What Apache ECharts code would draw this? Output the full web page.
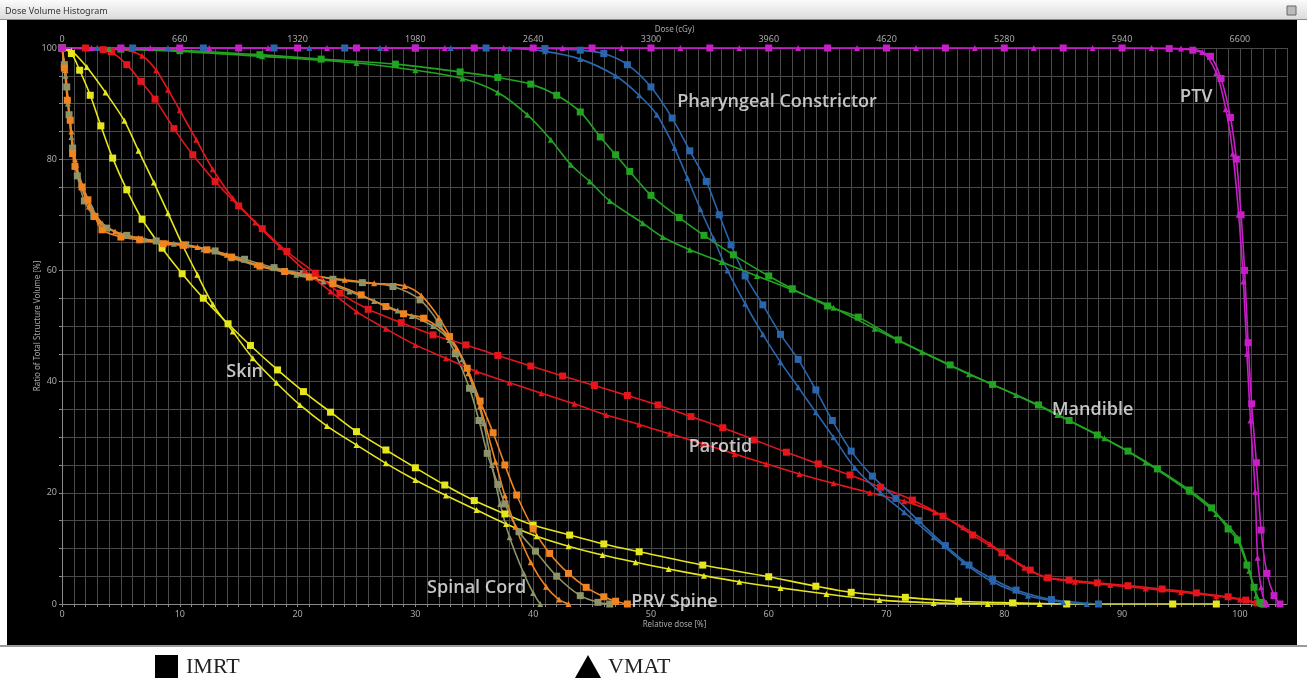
<!DOCTYPE html>
<html><head><meta charset="utf-8">
<script src="https://cdn.jsdelivr.net/npm/echarts@6/dist/echarts.min.js"></script>
<style>html,body{margin:0;padding:0;background:#fff;overflow:hidden}#c{width:1307px;height:678px}</style>
</head><body><div id="c"></div>
<script>
// ---------- data (relative dose %, volume %) ----------
const relTicks = [0,10,20,30,40,50,60,70,80,90,100];
const doseTicks = [0,660,1320,1980,2640,3300,3960,4620,5280,5940,6600];
const volTicks = [0,20,40,60,80,100];

const ptvIMRT = [[0,100],[5,100],[10,100],[15,100],[20,100],[25,100],[30,100],[35,100],[40,100],[45,100],[50,100],[55,100],[60,100],[65,100],[70,100],[75,100],[80,100],[85,100],[90,100],[94,99.9],[96,99.6],[97.5,98.5],[98.4,94.5],[99.2,87.5],[99.7,80],[100.1,70],[100.4,60],[100.7,47],[101.0,36],[101.4,25.4],[101.8,13.3],[102.3,5.5],[102.9,1.5],[103.4,0]];
const ptvVMAT = [[0,100],[2.5,100],[7.5,100],[12.5,100],[17.5,100],[22.5,100],[27.5,100],[32.5,100],[37.5,100],[42.5,100],[47.5,100],[52.5,100],[57.5,100],[62.5,100],[67.5,100],[72.5,100],[77.5,100],[82.5,100],[87.5,100],[92.5,100],[95,99.9],[96.8,99.3],[98,95.5],[98.8,89],[99.4,81],[99.9,70],[100.3,58],[100.6,45],[100.9,33],[101.3,20.2],[101.5,8.3],[101.8,3],[102.1,0.4],[102.3,0]];

const pharIMRT = [[0,100],[6,100],[12,100],[18,100],[24,100],[30,100],[36,100],[41,99.9],[44,99.6],[46,99],[48,97],[50,93],[51.8,87.4],[53.3,81.5],[54.7,76],[55.8,70],[56.8,64.6],[58,59],[59.5,53.8],[61,48.5],[62.5,44],[64,38.5],[65.4,33],[67,27.5],[68.8,23],[70.8,19],[72.7,15],[75,10.5],[77,7],[79,4.5],[81,2.5],[84,0.8],[88,0]];
const pharVMAT = [[0,100],[3,100],[9,100],[15,100],[21,100],[27,100],[33,100],[38,99.9],[41,99.4],[44,98],[47,95],[49,91.5],[50.5,88],[52,82],[53.1,76.6],[54.2,71],[55.3,65.8],[56.5,60],[58,54],[59.5,48.5],[61,43.5],[62.5,39],[64,34.5],[65.5,30],[67.3,24.5],[69.5,20],[71.5,16.5],[74,12],[76.5,7.5],[79,4],[82,1.5],[85,0.3],[87,0]];

const mandIMRT = [[0,100],[5,99.8],[10,99.6],[16.8,98.8],[22,98],[28.3,97.1],[33.8,95.7],[37,94.7],[39.8,93.5],[42,91.5],[44,88.5],[45.7,84],[47,80.8],[48.2,77.8],[50,73.5],[52.4,69.5],[54.5,66.3],[57,62.8],[60,59],[62,56.7],[65,53.6],[67.6,51.6],[71,47.5],[75.4,43],[79,39.5],[82.9,35.8],[85.5,33],[87.9,30.4],[90.5,27.5],[93,24.3],[95.7,20.5],[97.6,17.3],[99,13.5],[99.8,11.5],[100.6,7],[101.2,3],[101.7,0.3],[102,0]];
const mandVMAT = [[0,100],[4,99.8],[10,99.4],[17,98.5],[25,97.3],[30,96],[34,94.5],[37,92],[39.5,88],[41.5,83.5],[43.2,79],[44.8,76],[46.5,72.5],[49.3,68.5],[51,66],[53.3,63.7],[56,61.5],[59,59],[62,56.5],[65.5,53.3],[69,49.5],[73,45.3],[77,41.3],[81,37.6],[84.5,34],[88.5,29.8],[92,25.5],[95.7,20.2],[98,16.2],[99.8,11.9],[100.8,6],[101.4,1.5],[101.8,0]];

const parIMRT = [[0,100],[2,100],[3.5,99.7],[4.2,99.3],[5.5,97],[6.7,94],[7.9,90.8],[9.5,85.5],[11.1,80.8],[13,76],[15,71.6],[17,67.5],[19.1,63.4],[21.5,59.5],[23.6,55.9],[26,53],[28.8,50.6],[31.5,48.4],[34.3,46.6],[37,44.7],[39.8,42.8],[42.5,41],[45.2,39.3],[48,37.5],[50.6,35.8],[53.4,33.7],[56.1,31.7],[58.8,29.5],[61.5,27.3],[64.2,25.2],[66.9,23.2],[69.5,21],[72.2,18.7],[74.8,15.8],[77.3,12.4],[79.8,9.2],[82.2,6.1],[83.7,4.7],[85.5,4.3],[87.9,3.8],[90.5,3.3],[93.4,2.7],[96.3,2],[99,1.3],[100.5,0.7],[101.5,0.2],[102,0]];
const parVMAT = [[0,100],[3,100],[5,99.8],[6.8,98.6],[8,96],[9,92.5],[10,88.8],[11.4,83.5],[12.8,78.2],[14.5,73],[16.4,68.6],[18.5,64.2],[20.6,60],[22.8,56.2],[25,52.6],[27.5,49.5],[30,46.6],[32.6,44.2],[35.2,41.8],[38,39.8],[40.7,37.9],[43.5,36],[46.2,34],[49,32.3],[51.6,30.6],[54.4,28.8],[57.1,27],[59.8,25.2],[62.6,23.4],[65.5,21.7],[68.6,20],[71.5,18.5],[74.1,16.5],[76.5,13.8],[78.8,10.8],[80.3,8.5],[81.7,6.5],[83.5,4.8],[86,4],[89,3.4],[92,2.8],[95,2.1],[98,1.4],[100,0.8],[101.3,0.2],[101.8,0]];

const skinIMRT = [[0,100],[0.8,99],[1.5,96],[2.4,91.5],[3.3,86],[4.3,80.2],[5.5,74.5],[6.8,69.2],[8.5,64],[10.2,59.4],[12,55],[14.1,50.4],[16,46.5],[18.3,42.1],[20.5,38.2],[22.8,34.5],[25,31],[27.5,27.7],[30,24.5],[32.5,21.4],[35,18.6],[37.6,16.2],[40,14.2],[43.1,12.4],[46,10.8],[49,9.4],[54.4,7],[60,4.9],[64,3.2],[67,2.1],[71.6,1.2],[76.1,0.5],[80.7,0.2],[85.3,0],[94.3,0],[98,0]];
const skinVMAT = [[0,100],[0.8,99.5],[2.1,96.6],[3.7,92],[5.3,86.9],[6.5,81.5],[7.8,75.8],[9,70.3],[10.2,64.7],[11.5,59.2],[12.8,53.9],[14.5,49],[16.2,44.2],[18.2,39.8],[20.2,35.8],[22.5,32],[25,28.6],[27.5,25.3],[30,22.3],[32.6,19.5],[35.2,16.9],[37.7,14.4],[40.3,12.2],[43,10.4],[45.9,8.8],[48.7,7.5],[51.5,6.3],[54.5,5.1],[57.5,4],[61,2.9],[64.9,1.8],[69.4,0.7],[74,0.2],[78.6,0],[83,0]];

const cordIMRT = [[0,100],[0.2,97],[0.4,93],[0.6,88],[0.9,82],[1.3,77],[1.9,72.5],[2.7,69.7],[3.8,67.6],[5.5,66.3],[8,65.3],[10.5,64.6],[13,63.5],[15.5,62],[18,60.5],[20.5,59.4],[23,58.4],[25.5,57.8],[28.1,57.1],[30.4,54.7],[32,50.5],[33.4,45],[34.6,38.8],[35.4,33],[36.1,27.1],[37,21.5],[37.6,18],[38.8,13],[40.2,9.5],[42,5],[44,1.5],[45.5,0.3],[46.5,0]];
const cordVMAT = [[0,100],[0.3,95],[0.5,90],[0.8,84],[1.2,79],[1.8,75],[2.5,71.5],[3.4,68.5],[5,66.5],[7,65.5],[9.5,64.8],[12,63.8],[14.4,62.2],[16.8,60.7],[19.9,59.2],[22.2,58],[24.4,56.2],[26.5,54.5],[28.5,52.8],[29.7,51.8],[31.5,50],[32.9,47.5],[34,44],[35,38.5],[35.8,32.5],[36.5,25],[37.2,18],[38,12],[39.2,5.5],[40,2],[40.6,0]];
const prvIMRT = [[0,100],[0.2,96.4],[0.45,90.6],[0.7,87],[0.9,81],[1.1,78.7],[1.7,75],[2.2,72.7],[2.8,69.7],[3.4,67.3],[5,66],[6.6,65.5],[8.6,64.8],[10.3,64.5],[12.3,63.7],[14.4,62.4],[16.8,60.8],[18.9,59.8],[21,58.8],[23,57.6],[25.4,55.6],[27.5,53.5],[29,52.2],[30.7,51.4],[32.9,48.1],[34.4,42.4],[35.5,36.5],[36.6,30.8],[37.6,25],[38.6,19.6],[40,13.5],[41.4,9.1],[43,5.5],[44.5,3],[46,1.3],[47,0.5],[48,0]];
const prvVMAT = [[0,100],[0.3,96],[0.5,91],[0.8,85],[1.1,80],[1.6,75.5],[2.3,71.5],[3.2,68.8],[4.5,67],[6.5,65.8],[9,65],[11.5,64.2],[14,62.8],[16.5,61],[19,59.8],[21.5,59],[24,58.3],[26.5,57.7],[29.1,57.2],[30.5,55.5],[32,51.5],[33.5,46],[34.5,41.5],[35.5,35.5],[36.8,25.6],[37.6,19.5],[38.5,13.9],[39.8,7.5],[41.1,3.1],[42.2,0.8],[43,0]];

const structureLabels = [
  {name:'Pharyngeal Constrictor', value:[60.7,90.3]},
  {name:'PTV', value:[96.3,91.2]},
  {name:'Skin', value:[15.5,41.7]},
  {name:'Mandible', value:[87.5,34.9]},
  {name:'Parotid', value:[55.9,28.2]},
  {name:'Spinal Cord', value:[35.2,2.9]},
  {name:'PRV Spine', value:[52,0.4]}
];

// ---------- styles ----------
const COL = {ptv:'#c81ec8', phar:'#2a66ae', mand:'#22a422', par:'#e4161c', skin:'#e6e61e', cord:'#8e9468', prv:'#f08420'};
function mk(name, data, color, imrt){
  return {
    name: name, type:'line', data: data, smooth:0.3,
    symbol: imrt ? 'rect' : 'triangle', symbolSize: imrt ? 7 : 6, showSymbol:true,
    lineStyle:{color:color, width:1.6}, itemStyle:{color:color},
    clip:true, z:3
  };
}
const GRIDC = '#4a4a4a', LABC = '#a8a8a8';
const chart = echarts.init(document.getElementById('c'));
chart.setOption({
  animation:false,
  backgroundColor:'#ffffff',
  grid:{left:62, right:20, top:48, bottom:74},
  xAxis:[
    {type:'value', position:'bottom', min:0, max:104, interval:1,
     name:'Relative dose [%]', nameLocation:'middle', nameGap:17, nameMoveOverlap:false,
     nameTextStyle:{color:LABC, fontSize:8, fontFamily:'Noto Sans'},
     axisLine:{show:true, onZero:false, lineStyle:{color:'#8a8a8a'}},
     axisTick:{show:true, length:3, lineStyle:{color:'#8a8a8a'}},
     axisLabel:{color:LABC, fontSize:9, margin:6, showMaxLabel:false, fontFamily:'Noto Sans',
       formatter:v => (relTicks.indexOf(Math.round(v))>=0 && Math.abs(v-Math.round(v))<1e-6) ? String(Math.round(v)) : ''},
     splitLine:{show:true, lineStyle:{color:GRIDC, width:1}}},
    {type:'value', position:'top', min:0, max:104*66, interval:66,
     name:'Dose (cGy)', nameLocation:'middle', nameGap:14, nameMoveOverlap:false,
     nameTextStyle:{color:LABC, fontSize:8, fontFamily:'Noto Sans'},
     axisLine:{show:false}, axisTick:{show:false},
     axisLabel:{color:LABC, fontSize:9, margin:4, showMaxLabel:false, fontFamily:'Noto Sans',
       formatter:v => (doseTicks.indexOf(Math.round(v))>=0) ? String(Math.round(v)) : ''},
     splitLine:{show:false}}
  ],
  yAxis:{type:'value', min:0, max:100, interval:5,
    name:'Ratio of Total Structure Volume [%]', nameLocation:'middle', nameGap:20, nameRotate:90, nameMoveOverlap:false,
    nameTextStyle:{color:LABC, fontSize:8, fontFamily:'Noto Sans'},
    axisLine:{show:true, lineStyle:{color:'#8a8a8a'}},
    axisTick:{show:true, length:3, lineStyle:{color:'#8a8a8a'}},
    axisLabel:{color:LABC, fontSize:9, margin:5, fontFamily:'Noto Sans',
      formatter:v => volTicks.indexOf(Math.round(v))>=0 ? String(Math.round(v)) : ''},
    splitLine:{show:true, lineStyle:{color:GRIDC, width:1}}},
  series:[
    mk('Skin IMRT', skinIMRT, COL.skin, true),
    mk('Skin VMAT', skinVMAT, COL.skin, false),
    mk('Spinal Cord IMRT', cordIMRT, COL.cord, true),
    mk('Spinal Cord VMAT', cordVMAT, COL.cord, false),
    mk('PRV Spine IMRT', prvIMRT, COL.prv, true),
    mk('PRV Spine VMAT', prvVMAT, COL.prv, false),
    mk('Parotid IMRT', parIMRT, COL.par, true),
    mk('Parotid VMAT', parVMAT, COL.par, false),
    mk('Pharyngeal Constrictor IMRT', pharIMRT, COL.phar, true),
    mk('Pharyngeal Constrictor VMAT', pharVMAT, COL.phar, false),
    mk('Mandible IMRT', mandIMRT, COL.mand, true),
    mk('Mandible VMAT', mandVMAT, COL.mand, false),
    mk('PTV IMRT', ptvIMRT, COL.ptv, true),
    mk('PTV VMAT', ptvVMAT, COL.ptv, false),
    {name:'labels', type:'scatter', data:structureLabels, symbolSize:0, z:10, silent:true,
     label:{show:true, position:'inside', formatter:'{b}', color:'#f2f2f2', fontSize:18,
            fontFamily:'Open Sans', fontWeight:600}}
  ],
  graphic:[
    {type:'rect', z:-100, silent:true, shape:{x:7,y:20,width:1290,height:625}, style:{fill:'#000'}},
    {type:'rect', z:-100, silent:true, shape:{x:0,y:0,width:1307,height:20},
     style:{fill:new echarts.graphic.LinearGradient(0,0,0,1,[{offset:0,color:'#fbfbfb'},{offset:1,color:'#d9d9d9'}])}},
    {type:'rect', z:-100, silent:true, shape:{x:0,y:19,width:1307,height:1}, style:{fill:'#8c8c8c'}},
    {type:'rect', z:-100, silent:true, shape:{x:0,y:645,width:1307,height:2}, style:{fill:'#9a9a9a'}},
    {type:'text', silent:true, x:5, y:11, style:{text:'Dose Volume Histogram', fill:'#333', fontSize:9, fontFamily:'Noto Sans', verticalAlign:'middle'}},
    {type:'rect', silent:true, shape:{x:1287,y:6,width:9,height:9}, style:{fill:'#bbb', stroke:'#666', lineWidth:1}},
    {type:'rect', silent:true, shape:{x:155,y:655,width:23,height:23}, style:{fill:'#000'}},
    {type:'text', silent:true, x:186, y:667, style:{text:'IMRT', fill:'#222', fontSize:22, fontFamily:'Liberation Serif', verticalAlign:'middle'}},
    {type:'polygon', silent:true, shape:{points:[[575,678],[588,655],[601,678]]}, style:{fill:'#000'}},
    {type:'text', silent:true, x:608, y:667, style:{text:'VMAT', fill:'#222', fontSize:22, fontFamily:'Liberation Serif', verticalAlign:'middle'}}
  ]
});
</script></body></html>
